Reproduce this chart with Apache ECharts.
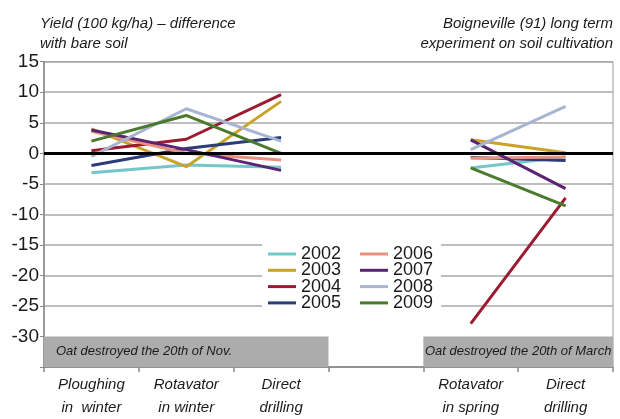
<!DOCTYPE html>
<html>
<head>
<meta charset="utf-8">
<script src="https://cdn.jsdelivr.net/npm/echarts@6/dist/echarts.min.js"></script>
<style>
  html, body { margin: 0; padding: 0; background: #fff; }
  #chart { width: 620px; height: 419px; }
</style>
</head>
<body>
<div id="chart"></div>
<script>
// Tillage treatments (4th slot separates the two oat-destruction dates)
const categories = ['Ploughing\nin  winter', 'Rotavator\nin winter', 'Direct\ndrilling', '', 'Rotavator\nin spring', 'Direct\ndrilling'];
const years = ['2002', '2003', '2004', '2005', '2006', '2007', '2008', '2009'];

// Yield difference with bare soil (100 kg/ha)
const y2002 = [-3.2, -1.9, -2.3, null, -2.4, -0.6];
const y2003 = [4.0, -2.2, 8.5, null, 2.2, 0.1];
const y2004 = [0.4, 2.3, 9.6, null, -27.9, -7.3];
const y2005 = [-2.0, 0.8, 2.6, null, -0.7, -1.2];
const y2006 = [3.6, 0.0, -1.1, null, -0.8, -0.6];
const y2007 = [3.8, 0.6, -2.8, null, 2.2, -5.8];
const y2008 = [-0.5, 7.3, 2.0, null, 0.6, 7.7];
const y2009 = [2.0, 6.2, 0.0, null, -2.4, -8.6];
const seriesValues = [y2002, y2003, y2004, y2005, y2006, y2007, y2008, y2009];

const yearColors = ['#74c6c9', '#c9a227', '#9b1b30', '#2c3b7a', '#e8917f', '#5a2472', '#a7b5d0', '#4a7b2d'];

// Oat destruction periods: [first category index, last category index + 1, text]
const periodStart = [0, 4];
const periodEnd = [3, 6];
const periodLabels = ['Oat destroyed the 20th of Nov.', 'Oat destroyed the 20th of March'];

const yTicks = [-35, -30, -25, -20, -15, -10, -5, 0, 5, 10, 15];

const FONT = '"Liberation Sans", Arial, sans-serif';
const TXT = '#1a1a1a';
const GRID_GREY = '#a8a8a8';

// no split line along the top of the grey period bands
const splitColors = yTicks.map(v => (v === yTicks[1] ? 'rgba(0,0,0,0)' : GRID_GREY));

const chart = echarts.init(document.getElementById('chart'));

const lineSeries = years.map((yr, i) => ({
  name: yr,
  type: 'line',
  data: seriesValues[i],
  symbol: 'none',
  connectNulls: false,
  color: yearColors[i],
  lineStyle: { width: 3, color: yearColors[i] },
  z: 3
}));

const bandSeries = {
  name: 'bands',
  type: 'line',
  xAxisIndex: 1,
  data: [],
  silent: true,
  markArea: {
    silent: true,
    itemStyle: { color: '#acacac' },
    data: periodStart.map((s, k) => [
      {
        xAxis: s, yAxis: yTicks[1],
        label: {
          show: true,
          formatter: periodLabels[k],
          position: k === 0 ? 'insideLeft' : 'inside',
          distance: 12,
          fontFamily: FONT, fontStyle: 'italic', fontSize: 13, color: TXT
        }
      },
      { xAxis: periodEnd[k], yAxis: yTicks[0] }
    ])
  },
  markLine: {
    silent: true,
    symbol: 'none',
    label: { show: false },
    lineStyle: { color: '#000', width: 3, type: 'solid' },
    data: [{ yAxis: 0 }]
  },
  z: 2
};

const legendBase = {
  orient: 'vertical',
  top: 235,
  itemWidth: 28,
  itemHeight: 3,
  itemGap: -1.7,
  icon: 'rect',
  backgroundColor: '#fff',
  textStyle: { fontFamily: FONT, fontSize: 18, lineHeight: 16, color: TXT }
};

chart.setOption({
  animation: false,
  title: [
    {
      text: 'Yield (100 kg/ha) – difference\nwith bare soil',
      left: 40, top: 14, padding: 0,
      textStyle: { fontFamily: FONT, fontStyle: 'italic', fontWeight: 'normal', fontSize: 15, lineHeight: 20, color: TXT }
    },
    {
      text: 'Boigneville (91) long term\nexperiment on soil cultivation',
      left: 613, top: 14, padding: 0, textAlign: 'right',
      textStyle: { fontFamily: FONT, fontStyle: 'italic', fontWeight: 'normal', fontSize: 15, lineHeight: 20, color: TXT, align: 'right' }
    }
  ],
  legend: [
    Object.assign({}, legendBase, { left: 262, padding: [10, 18, 10, 6], data: years.slice(0, 4) }),
    Object.assign({}, legendBase, { left: 354, padding: [10, 8, 10, 6], data: years.slice(4) })
  ],
  grid: {
    left: 44, right: 7, top: 61.7, bottom: 49,
    show: true, borderColor: '#999', borderWidth: 1, backgroundColor: 'transparent'
  },
  xAxis: [
    {
      type: 'category',
      data: categories,
      boundaryGap: true,
      axisLine: { show: true, onZero: false, lineStyle: { color: '#888', width: 1.5 } },
      axisTick: { show: true, interval: 0, length: 5, lineStyle: { color: '#888', width: 1.5 } },
      axisLabel: {
        interval: 0, margin: 6,
        fontFamily: FONT, fontStyle: 'italic', fontSize: 15, lineHeight: 23, color: TXT
      },
      splitLine: { show: false }
    },
    { type: 'value', min: 0, max: categories.length, show: false }
  ],
  yAxis: {
    type: 'value',
    min: yTicks[0], max: yTicks[yTicks.length - 1], interval: 5,
    axisLine: { show: true, lineStyle: { color: '#888', width: 1.5 } },
    axisTick: { show: true, length: 4, lineStyle: { color: '#888' } },
    axisLabel: {
      margin: 5,
      fontFamily: FONT, fontSize: 19, color: TXT,
      formatter: v => (v === yTicks[0] ? '' : String(v))
    },
    splitLine: { show: true, lineStyle: { color: splitColors, width: 1.5 } }
  },
  series: [bandSeries].concat(lineSeries)
});
</script>
</body>
</html>
